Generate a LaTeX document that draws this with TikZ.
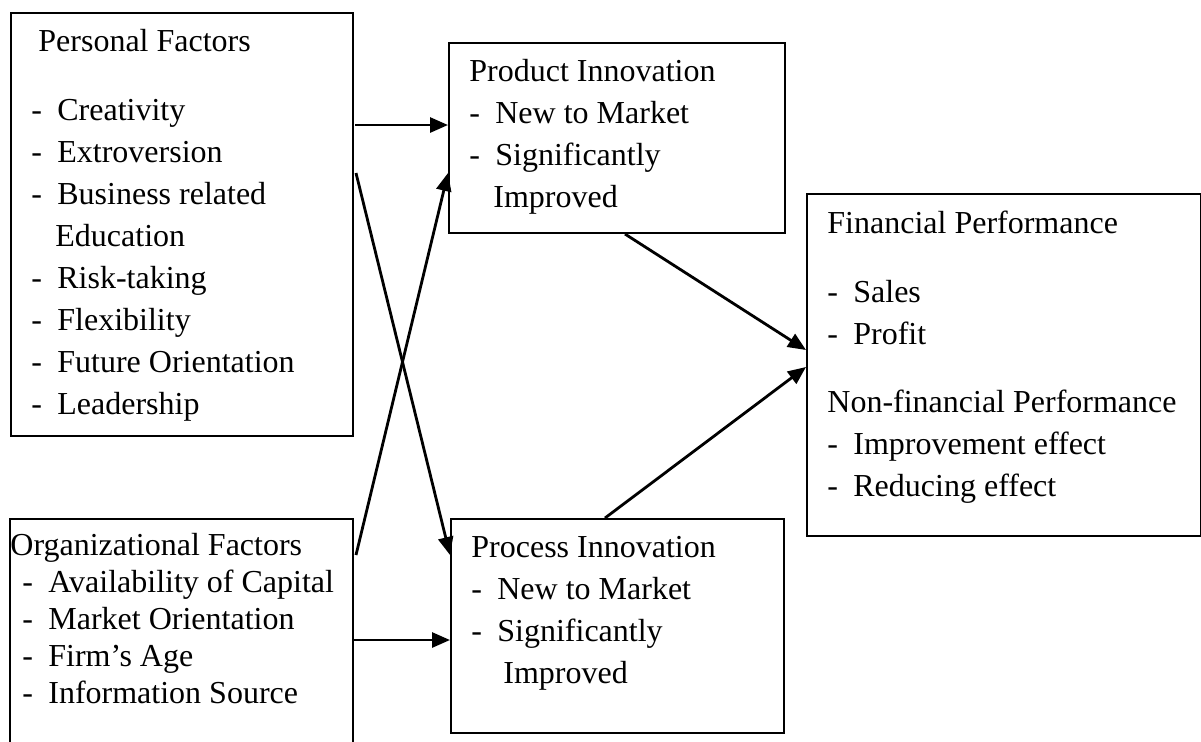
\documentclass[tikz,border=0pt]{standalone}
\usepackage{fontspec}
\setmainfont{Liberation Serif}
\usetikzlibrary{arrows.meta, calc}

% one bullet line: dash, then the item text
\newcommand{\dashitem}[1]{\makebox[13pt][l]{-}#1}

\begin{document}
\begin{tikzpicture}[x=0.5pt, y=-0.5pt,
    box/.style={rectangle, draw, line width=1pt, anchor=north west, inner sep=0pt},
    txt/.style={anchor=base west, inner sep=0pt, font=\fontsize{16}{21}\selectfont},
    link/.style={-{Triangle[length=9pt, width=7.5pt]}, line width=1.4pt}]

    \clip (0,0) rectangle (1201,741);

    % Boxes
    \node[box, minimum width=171pt, minimum height=211.5pt] (pers) at (10,12) {};
    \node[box, minimum width=171.5pt, minimum height=130pt] (org) at (9,518) {};
    \node[box, minimum width=168pt, minimum height=95pt] (prod) at (448,42) {};
    \node[box, minimum width=166.5pt, minimum height=107pt] (proc) at (450,518) {};
    \node[box, minimum width=197pt, minimum height=171pt] (fin) at (806,193) {};

    % Personal factors
    \node[txt] (pers-txt) at ($(pers.north west)+(21,39)$) {\parbox[t]{165pt}{%
        \hspace*{3.5pt}Personal Factors\\[13.5pt]
        \dashitem{Creativity}\\
        \dashitem{Extroversion}\\
        \dashitem{Business related}\\
        \hspace*{12pt}Education\\
        \dashitem{Risk-taking}\\
        \dashitem{Flexibility}\\
        \dashitem{Future Orientation}\\
        \dashitem{Leadership}}};

    % Organizational factors
    \node[txt, font=\fontsize{16}{18.5}\selectfont] (org-txt) at ($(org.north west)+(1,37)$) {\parbox[t]{168pt}{%
        Organizational Factors\\
        \hspace*{6pt}\dashitem{Availability of Capital}\\
        \hspace*{6pt}\dashitem{Market Orientation}\\
        \hspace*{6pt}\dashitem{Firm's Age}\\
        \hspace*{6pt}\dashitem{Information Source}}};

    % Innovation types
    \node[txt] (prod-txt) at ($(prod.north west)+(21,39)$) {\parbox[t]{145pt}{%
        Product Innovation\\
        \dashitem{New to Market}\\
        \dashitem{Significantly}\\
        \hspace*{12pt}Improved}};
    \node[txt] (proc-txt) at ($(proc.north west)+(21,39)$) {\parbox[t]{145pt}{%
        Process Innovation\\
        \dashitem{New to Market}\\
        \dashitem{Significantly}\\
        \hspace*{16pt}Improved}};

    % Performance
    \node[txt] (fin-txt) at ($(fin.north west)+(21,40)$) {\parbox[t]{185pt}{%
        Financial Performance\\[13.5pt]
        \dashitem{Sales}\\
        \dashitem{Profit}\\[13pt]
        Non-financial Performance\\
        \dashitem{Improvement effect}\\
        \dashitem{Reducing effect}}};

    % Arrows
    \draw[link] ($(pers.north east)+(1,113)$) -- ($(prod.north west)+(0,83)$);
    \draw[link] ($(pers.north east)+(2,161)$) -- ($(proc.north west)+(0,37)$);
    \draw[link] ($(org.north east)+(2,37)$) -- ($(prod.north west)+(0,131)$);
    \draw[link] ($(org.north east)+(0,122)$) -- ($(proc.north west)+(0,122)$);
    \draw[link] ($(prod.south west)+(177,0)$) -- ($(fin.north west)+(0,157)$);
    \draw[link] ($(proc.north west)+(155,0)$) -- ($(fin.north west)+(0,174)$);
\end{tikzpicture}
\end{document}
